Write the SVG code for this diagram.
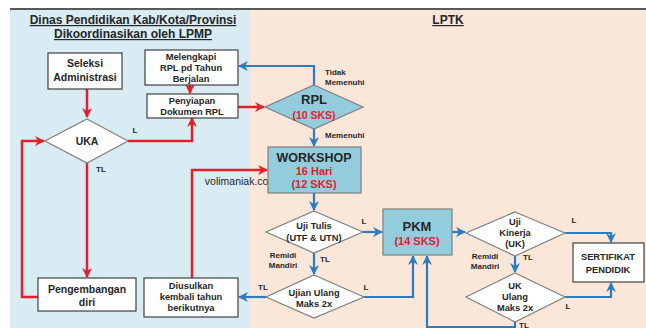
<svg xmlns="http://www.w3.org/2000/svg" width="646" height="329" viewBox="0 0 646 329">
<defs>
<style>
text{font-family:"Liberation Sans",Arial,sans-serif;font-weight:bold;fill:#262626;text-anchor:middle}
.t{font-size:10.5px}
.u{font-size:9.3px}
.s{font-size:8px}
.l{text-anchor:start}
.r{fill:#e3202a}
.ttl{font-size:12px;text-decoration:underline}
.box{fill:#fff;stroke:#404040;stroke-width:1.2}
.dia{fill:#fff;stroke:#7f7f7f;stroke-width:1.2}
.blu{fill:#93cddd;stroke:#7f7f7f;stroke-width:1.2}
.rc{fill:none;stroke:#e3202a;stroke-width:2.5}
.bc{fill:none;stroke:#2e7cc0;stroke-width:2.2}
</style>
<marker id="ar" viewBox="0 0 10 10" refX="9" refY="5" markerWidth="10" markerHeight="10" markerUnits="userSpaceOnUse" orient="auto"><path d="M0,0 L10,5 L0,10 L3,5 z" fill="#e3202a"/></marker>
<marker id="ab" viewBox="0 0 10 10" refX="9" refY="5" markerWidth="10" markerHeight="10" markerUnits="userSpaceOnUse" orient="auto"><path d="M0,0 L10,5 L0,10 L3,5 z" fill="#2e7cc0"/></marker>
</defs>
<rect width="646" height="329" fill="#fff"/>
<rect x="10" y="10" width="240" height="318" fill="#d9ecf3"/>
<rect x="250" y="10" width="396" height="318" fill="#fbe7da"/>
<line x1="10" y1="9" x2="646" y2="9" stroke="#222" stroke-width="1.5"/>
<text class="ttl" x="133" y="24">Dinas Pendidikan Kab/Kota/Provinsi</text>
<text class="ttl" x="133" y="38">Dikoordinasikan oleh LPMP</text>
<text class="ttl" x="448" y="24">LPTK</text>
<text x="241" y="185" style="font-size:10.5px;font-weight:normal">volimaniak.com</text>

<g id="connectors">
<path class="rc" d="M87 89 V117" marker-end="url(#ar)"/>
<path class="rc" d="M190 85 V93" marker-end="url(#ar)"/>
<path class="rc" d="M238 107 H264" marker-end="url(#ar)"/>
<path class="rc" d="M128 141 H192 V118" marker-end="url(#ar)"/>
<path class="rc" d="M87 163 V277" marker-end="url(#ar)"/>
<path class="rc" d="M38 297 H22 V141 H44" marker-end="url(#ar)"/>
<path class="rc" d="M192 278 V170 H267" marker-end="url(#ar)"/>
<path class="bc" d="M314 86 V66 H239" marker-end="url(#ab)"/>
<path class="bc" d="M314 129 V146" marker-end="url(#ab)"/>
<path class="bc" d="M314 193 V210" marker-end="url(#ab)"/>
<path class="bc" d="M363 232 H382" marker-end="url(#ab)"/>
<path class="bc" d="M452 232 H465" marker-end="url(#ab)"/>
<path class="bc" d="M565 233 H611 V242" marker-end="url(#ab)"/>
<path class="bc" d="M515 256 V272" marker-end="url(#ab)"/>
<path class="bc" d="M565 297 H611 V283" marker-end="url(#ab)"/>
<path class="bc" d="M515 322 V327 H427 V256" marker-end="url(#ab)"/>
<path class="bc" d="M314 253 V274" marker-end="url(#ab)"/>
<path class="bc" d="M364 297 H413 V256" marker-end="url(#ab)"/>
<path class="bc" d="M266 297 H239" marker-end="url(#ab)"/>
<text class="s l" x="325" y="75">Tidak</text>
<text class="s l" x="325" y="85">Memenuhi</text>
<text class="s l" x="325" y="138">Memenuhi</text>
<text class="s" x="135" y="133">L</text>
<text class="s" x="101" y="172">TL</text>
<text class="s" x="364" y="224">L</text>
<text class="s" x="283" y="258">Remidi</text>
<text class="s" x="283" y="268">Mandiri</text>
<text class="s" x="325" y="262">TL</text>
<text class="s" x="263" y="290">TL</text>
<text class="s" x="366" y="290">L</text>
<text class="s" x="574" y="223">L</text>
<text class="s" x="485" y="259">Remidi</text>
<text class="s" x="485" y="269">Mandiri</text>
<text class="s" x="528" y="260">TL</text>
<text class="s" x="568" y="309">L</text>
<text class="s" x="524" y="328">TL</text>
</g>

<g id="seleksi"><rect class="box" x="48" y="53" width="74" height="36"/><text class="t" x="85" y="67">Seleksi</text><text class="t" x="85" y="81">Administrasi</text></g>
<g id="melengkapi"><rect class="box" x="145" y="50" width="93" height="35"/><text class="u" x="191" y="60">Melengkapi</text><text class="u" x="191" y="71">RPL pd Tahun</text><text class="u" x="191" y="82">Berjalan</text></g>
<g id="penyiapan"><rect class="box" x="147" y="94" width="91" height="24"/><text class="u" x="192" y="104">Penyiapan</text><text class="u" x="192" y="115">Dokumen RPL</text></g>
<g id="rpl"><polygon class="blu" points="314,85 363,107 314,129 265,107"/><text x="314" y="104" style="font-size:13px">RPL</text><text class="t r" x="314" y="119">(10 SKS)</text></g>
<g id="uka"><polygon class="dia" points="87,119 128,141 87,163 45,141"/><text class="t" x="87" y="145">UKA</text></g>
<g id="workshop"><rect class="blu" x="268" y="147" width="93" height="46"/><text x="314" y="162" style="font-size:12.5px">WORKSHOP</text><text class="r" x="314" y="175" style="font-size:11px">16 Hari</text><text class="r" x="314" y="188" style="font-size:11px">(12 SKS)</text></g>
<g id="ujitulis"><polygon class="dia" points="314,211 363,232 314,253 266,232"/><text class="u" x="314" y="229">Uji Tulis</text><text class="u" x="314" y="241">(UTF &amp; UTN)</text></g>
<g id="pkm"><rect class="blu" x="383" y="209" width="69" height="46"/><text x="417" y="231" style="font-size:13px">PKM</text><text class="r" x="417" y="245" style="font-size:11px">(14 SKS)</text></g>
<g id="ujikinerja"><polygon class="dia" points="515,212 565,233 515,256 466,233"/><text class="u" x="515" y="225">Uji</text><text class="u" x="515" y="236">Kinerja</text><text class="u" x="515" y="247">(UK)</text></g>
<g id="sertifikat"><rect class="box" x="573" y="243" width="71" height="39"/><text class="u" x="608" y="260">SERTIFIKAT</text><text class="u" x="608" y="273">PENDIDIK</text></g>
<g id="ukulang"><polygon class="dia" points="515,273 565,297 515,322 466,297"/><text class="u" x="515" y="289">UK</text><text class="u" x="515" y="300">Ulang</text><text class="u" x="515" y="311">Maks 2x</text></g>
<g id="ujianulang"><polygon class="dia" points="314,275 364,297 314,318 266,297"/><text class="u" x="314" y="296">Ujian Ulang</text><text class="u" x="314" y="307">Maks 2x</text></g>
<g id="diusulkan"><rect class="box" x="144" y="278" width="94" height="39"/><text class="u" x="191" y="289">Diusulkan</text><text class="u" x="191" y="300">kembali tahun</text><text class="u" x="191" y="311">berikutnya</text></g>
<g id="pengembangan"><rect class="box" x="38" y="278" width="98" height="33"/><text class="t" x="87" y="293">Pengembangan</text><text class="t" x="87" y="306">diri</text></g>
</svg>
